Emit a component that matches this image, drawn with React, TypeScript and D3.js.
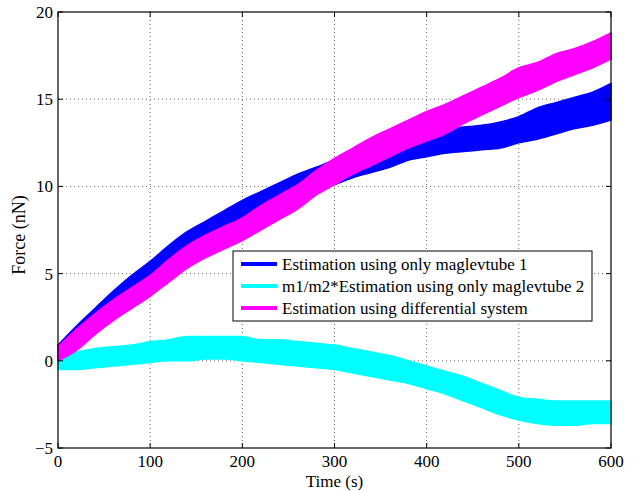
import React from "react";
import * as d3 from "d3";

const times = [0, 20, 40, 60, 80, 100, 120, 140, 160, 180, 200, 220, 240, 260, 280, 300, 320, 340, 360, 380, 400, 420, 440, 460, 480, 500, 520, 540, 560, 580, 600];

// Estimation using only maglevtube 1 (blue) – band envelope
const blueHi = [0.9, 2.0, 3.0, 4.0, 4.9, 5.7, 6.6, 7.4, 8.0, 8.6, 9.2, 9.7, 10.2, 10.7, 11.1, 11.5, 11.8, 12.1, 12.5, 12.9, 13.2, 13.3, 13.4, 13.5, 13.7, 14.0, 14.5, 14.8, 15.1, 15.4, 15.9];
const blueLo = [-0.1, 0.8, 1.6, 2.6, 3.5, 4.3, 5.2, 6.0, 6.6, 7.2, 7.8, 8.3, 8.8, 9.3, 9.7, 10.1, 10.5, 10.8, 11.1, 11.5, 11.7, 11.9, 12.0, 12.1, 12.2, 12.5, 12.7, 13.0, 13.3, 13.5, 13.8];

// m1/m2*Estimation using only maglevtube 2 (cyan)
const cyanHi = [0.4, 0.5, 0.7, 0.8, 0.9, 1.1, 1.2, 1.4, 1.4, 1.4, 1.4, 1.2, 1.2, 1.1, 1.0, 0.9, 0.7, 0.5, 0.3, 0.0, -0.3, -0.6, -0.9, -1.3, -1.7, -2.1, -2.2, -2.3, -2.3, -2.3, -2.3];
const cyanLo = [-0.5, -0.5, -0.4, -0.3, -0.2, -0.1, 0.0, 0.0, 0.1, 0.1, 0.0, -0.1, -0.2, -0.3, -0.4, -0.5, -0.7, -0.9, -1.1, -1.3, -1.6, -1.9, -2.3, -2.7, -3.1, -3.4, -3.6, -3.7, -3.7, -3.6, -3.6];

// Estimation using differential system (magenta)
const magHi = [0.8, 1.8, 2.7, 3.5, 4.2, 4.9, 5.8, 6.6, 7.2, 7.7, 8.2, 8.9, 9.5, 10.1, 10.9, 11.6, 12.2, 12.8, 13.3, 13.8, 14.3, 14.7, 15.2, 15.7, 16.2, 16.8, 17.1, 17.6, 17.9, 18.3, 18.8];
const magLo = [0.0, 0.6, 1.5, 2.3, 3.0, 3.7, 4.5, 5.3, 5.9, 6.4, 6.9, 7.5, 8.1, 8.7, 9.5, 10.1, 10.7, 11.2, 11.7, 12.2, 12.6, 13.0, 13.6, 14.1, 14.6, 15.1, 15.5, 16.0, 16.4, 16.8, 17.3];

const xTicks = [0, 100, 200, 300, 400, 500, 600];
const yTicks = [-5, 0, 5, 10, 15, 20];

const seriesNames = [
  "Estimation using only maglevtube 1",
  "m1/m2*Estimation using only maglevtube 2",
  "Estimation using differential system",
];
const seriesColors = ["#0000ff", "#00ffff", "#ff00ff"];

const W = 641, H = 491;
const L = 58, R = 611, T = 12, B = 448;

export default function App() {
  const x = d3.scaleLinear().domain([0, 600]).range([L, R]);
  const y = d3.scaleLinear().domain([-5, 20]).range([B, T]);

  const bands = [
    { lo: blueLo, hi: blueHi, color: seriesColors[0] },
    { lo: cyanLo, hi: cyanHi, color: seriesColors[1] },
    { lo: magLo, hi: magHi, color: seriesColors[2] },
  ];

  const area = (lo: number[], hi: number[]) =>
    d3
      .area<number>()
      .curve(d3.curveMonotoneX)
      .x((_, i) => x(times[i]))
      .y0((_, i) => y(lo[i]))
      .y1((_, i) => y(hi[i]))(times) || "";

  const font = "'Liberation Serif', 'Times New Roman', serif";
  const tick = 5;

  return (
    <svg width={W} height={H} style={{ position: "absolute", left: 0, top: 0, background: "#fff" }} fontFamily={font}>
      <rect x={0} y={0} width={W} height={H} fill="#fff" />
      {/* grid */}
      {xTicks.slice(1, -1).map((t) => (
        <line key={"gx" + t} x1={x(t)} x2={x(t)} y1={T} y2={B} stroke="#666" strokeWidth={1} strokeDasharray="1,3" />
      ))}
      {yTicks.slice(1, -1).map((t) => (
        <line key={"gy" + t} x1={L} x2={R} y1={y(t)} y2={y(t)} stroke="#666" strokeWidth={1} strokeDasharray="1,3" />
      ))}
      {/* data bands */}
      {bands.map((b, i) => (
        <path key={"b" + i} d={area(b.lo, b.hi)} fill={b.color} stroke={b.color} strokeWidth={1.5} strokeLinejoin="round" />
      ))}
      {/* box */}
      <rect x={L} y={T} width={R - L} height={B - T} fill="none" stroke="#000" strokeWidth={1.2} />
      {/* ticks */}
      {xTicks.map((t) => (
        <g key={"tx" + t}>
          <line x1={x(t)} x2={x(t)} y1={B} y2={B - tick} stroke="#000" />
          <line x1={x(t)} x2={x(t)} y1={T} y2={T + tick} stroke="#000" />
          <text x={x(t)} y={467} textAnchor="middle" fontSize={17} fill="#000">
            {t}
          </text>
        </g>
      ))}
      {yTicks.map((t) => (
        <g key={"ty" + t}>
          <line x1={L} x2={L + tick} y1={y(t)} y2={y(t)} stroke="#000" />
          <line x1={R} x2={R - tick} y1={y(t)} y2={y(t)} stroke="#000" />
          <text x={53} y={y(t) + 6} textAnchor="end" fontSize={17} fill="#000">
            {t < 0 ? "\u2212" + Math.abs(t) : t}
          </text>
        </g>
      ))}
      {/* axis labels */}
      <text x={(L + R) / 2} y={487} textAnchor="middle" fontSize={17} fill="#000">
        Time (s)
      </text>
      <text transform={`translate(25, 235) rotate(-90)`} textAnchor="middle" fontSize={18} fill="#000">
        Force (nN)
      </text>
      {/* legend */}
      <rect x={233} y={251} width={359} height={70} fill="#fff" stroke="#000" strokeWidth={1} />
      {seriesNames.map((n, i) => (
        <g key={"lg" + i}>
          <line x1={241} x2={277} y1={264 + i * 22} y2={264 + i * 22} stroke={seriesColors[i]} strokeWidth={4} />
          <text x={282} y={270 + i * 22} fontSize={17} fill="#000">
            {n}
          </text>
        </g>
      ))}
    </svg>
  );
}
